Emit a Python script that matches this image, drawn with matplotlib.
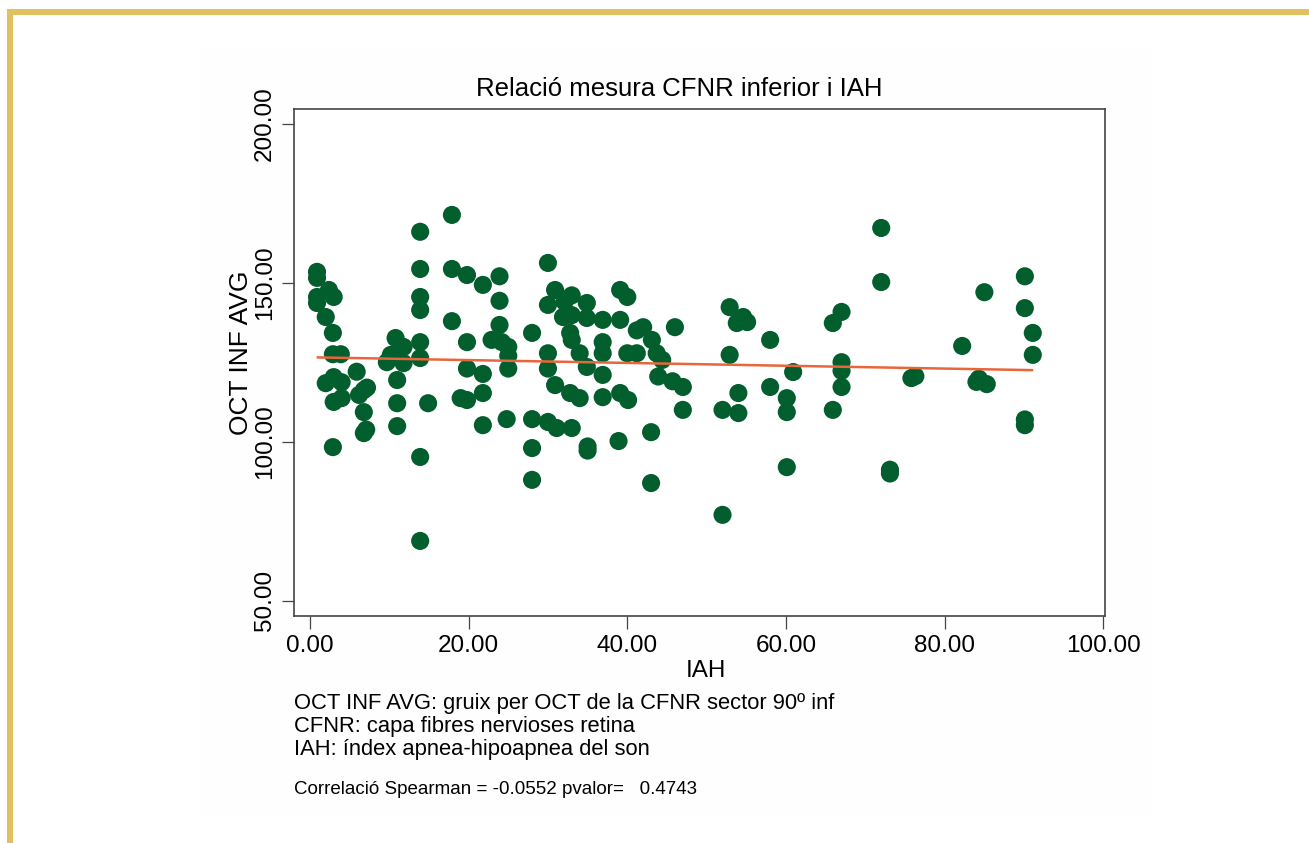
import matplotlib
matplotlib.use('Agg')
from matplotlib import pyplot as plt
from matplotlib.ticker import FormatStrFormatter
from matplotlib.patches import Rectangle
import numpy as np

# IAH (x) and OCT INF AVG (y)
iah = [0.9, 0.9, 0.9, 0.9, 2.4, 3.0, 2.0, 2.9, 2.9, 3.9, 3.0, 5.9, 2.0, 4.0, 3.0, 4.0,
       6.8, 7.2, 6.2, 6.8, 6.8, 7.1, 2.9,
       9.7, 10.2, 10.8, 11.8, 11.8, 11.0, 11.0, 11.0,
       13.9, 13.9, 13.9, 13.9, 13.9, 13.9, 13.9, 13.9, 14.9,
       17.9, 17.9, 17.9, 19.8, 19.8, 19.8, 19.0, 19.8,
       21.8, 23.9, 23.9, 23.9, 22.9, 24.2, 25.0, 25.0, 25.0, 21.8, 21.8, 21.8, 24.8,
       28.0, 28.0, 28.0, 28.0,
       30.0, 30.9, 30.0, 30.0, 30.0, 30.9, 30.0, 31.1, 31.9, 33.0, 32.1, 33.0, 32.8,
       33.0, 32.8, 34.0, 33.0, 34.9, 34.9, 34.0, 34.9, 35.0, 35.0,
       36.9, 36.9, 36.9, 36.9, 36.9, 39.1, 40.0, 39.1, 40.0, 39.1, 40.1, 38.9,
       41.2, 41.2, 42.0, 43.1, 43.7, 44.4, 46.0, 43.9, 45.7, 47.0, 47.0, 43.0, 43.0,
       52.9, 54.6, 55.1, 53.8, 52.9, 54.0, 52.0, 54.0, 58.0, 58.0, 60.9, 60.1, 60.1,
       60.1, 52.0,
       67.0, 65.9, 67.0, 67.0, 67.0, 65.9,
       72.0, 72.0, 73.1, 73.1, 75.8, 76.3, 82.2, 84.0, 84.3, 85.3, 85.0,
       90.1, 90.1, 90.1, 90.1, 91.1, 91.1]
oct_inf = [153.4, 151.5, 145.5, 143.6, 147.7, 145.5, 139.2, 134.2, 127.5, 127.5, 120.3, 122.0,
           118.4, 118.7, 112.5, 113.7,
           116.2, 117.0, 114.7, 109.3, 102.7, 103.8, 98.3,
           125.0, 127.3, 132.6, 129.8, 124.7, 119.4, 112.1, 104.9,
           166.0, 154.3, 145.5, 141.4, 131.3, 126.3, 95.2, 68.8, 112.1,
           171.3, 154.3, 137.9, 152.4, 131.3, 123.0, 113.7, 113.1,
           149.3, 152.0, 144.3, 136.7, 132.0, 131.3, 129.8, 127.0, 123.0, 121.3, 115.3,
           105.2, 107.1,
           134.2, 107.1, 98.0, 88.0,
           156.2, 147.7, 143.0, 127.8, 123.0, 117.8, 106.2, 104.3, 139.2, 146.0, 144.0,
           139.8, 134.2, 132.0, 115.3, 113.7, 104.3, 143.6, 138.9, 127.8, 123.5, 98.5, 97.2,
           138.3, 131.3, 127.8, 121.0, 114.0, 147.7, 145.5, 138.3, 127.8, 115.3, 113.1, 100.2,
           127.8, 135.0, 136.0, 132.0, 127.8, 125.7, 136.0, 120.5, 119.0, 117.2, 110.0,
           103.0, 87.0,
           142.3, 139.2, 137.6, 137.3, 127.3, 115.3, 110.0, 109.0, 132.0, 117.2, 121.9,
           113.7, 109.3, 92.0, 77.0,
           140.8, 137.3, 125.0, 122.3, 117.2, 110.0,
           167.2, 150.2, 90.0, 91.2, 120.0, 120.6, 130.1, 118.8, 119.8, 118.1, 147.0,
           152.0, 142.0, 107.0, 105.2, 134.2, 127.3]

# linear fit line (end points)
fit_x = [1.0, 91.0]
fit_y = [126.5, 122.5]

x_ticks = [0, 20, 40, 60, 80, 100]
y_ticks = [50, 100, 150, 200]

title = "Relació mesura CFNR inferior i IAH"
notes = ["OCT INF AVG: gruix per OCT de la CFNR sector 90º inf",
         "CFNR: capa fibres nervioses retina",
         "IAH: índex apnea-hipoapnea del son"]
corr_note = "Correlació Spearman = -0.0552 pvalor=   0.4743"


def main():
    plt.rcParams['font.family'] = ['Liberation Sans', 'DejaVu Sans']

    W, H = 1309, 843
    fig = plt.figure(figsize=(W / 100, H / 100), dpi=100)
    fig.patch.set_facecolor('white')

    # very faint graph region + gold frame (top and left only)
    fig.add_artist(Rectangle((200 / W, 1 - 815 / H), 952 / W, 767 / H,
                             transform=fig.transFigure, facecolor='#fefefe',
                             edgecolor='none', zorder=0))
    fig.add_artist(Rectangle((7 / W, 1 - 15 / H), 1 - 7 / W, 6 / H,
                             transform=fig.transFigure, facecolor='#dfc25f',
                             edgecolor='none', zorder=1))
    fig.add_artist(Rectangle((7 / W, 0), 6 / W, 1 - 9 / H,
                             transform=fig.transFigure, facecolor='#dfc25f',
                             edgecolor='none', zorder=1))

    ax = fig.add_axes([294 / W, 1 - 616 / H, 811 / W, 507 / H])
    ax.set_facecolor('white')

    ax.scatter(iah, oct_inf, s=170, color='#035e2e', edgecolors='none', zorder=2)
    ax.plot(fit_x, fit_y, color='#e8663a', linewidth=1.8, zorder=3)

    ax.set_xlim(-2.0, 100.2)
    ax.set_ylim(45.2, 204.6)
    ax.set_xticks(x_ticks)
    ax.set_yticks(y_ticks)
    ax.xaxis.set_major_formatter(FormatStrFormatter('%.2f'))
    ax.yaxis.set_major_formatter(FormatStrFormatter('%.2f'))
    ax.tick_params(axis='both', direction='out', length=9, width=0.9,
                   color='#444444', labelsize=17.5, pad=5)
    ax.tick_params(axis='y', labelrotation=90, pad=4)
    for lbl in ax.get_yticklabels():
        lbl.set_va('center')

    for sp in ax.spines.values():
        sp.set_color('#444444')
        sp.set_linewidth(1.2)

    # title sits a little left of the plot centre in the original
    fig.text(679 / W, 1 - 89 / H, title, fontsize=18.5, ha='center', va='center')
    ax.set_xlabel("IAH", fontsize=17.5)
    ax.xaxis.set_label_coords(0.508, -0.086)
    ax.set_ylabel("OCT INF AVG", fontsize=19)
    ax.yaxis.set_label_coords(-0.051, 0.52)

    # footnotes under the graph
    for i, t in enumerate(notes):
        fig.text(294 / W, 1 - (703 + 23.5 * i) / H, t, fontsize=15.8, va='center', ha='left')
    fig.text(294 / W, 1 - 790 / H, corr_note, fontsize=13.5, va='center', ha='left')

    fig.savefig('out.png', dpi=100)


main()
